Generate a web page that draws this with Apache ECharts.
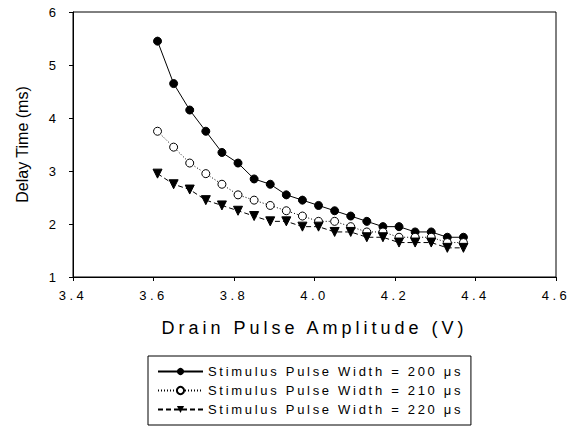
<!DOCTYPE html>
<html><head><meta charset="utf-8">
<script src="https://cdn.jsdelivr.net/npm/echarts@6/dist/echarts.min.js"></script>
<style>html,body{margin:0;padding:0;background:#fff}#c{width:569px;height:428px}</style>
</head><body><div id="c"></div>
<script>
var xValues = [3.61,3.65,3.69,3.73,3.77,3.81,3.85,3.89,3.93,3.97,4.01,4.05,4.09,4.13,4.17,4.21,4.25,4.29,4.33,4.37];
var delay200 = [5.45,4.65,4.15,3.75,3.35,3.15,2.85,2.75,2.55,2.45,2.35,2.25,2.15,2.05,1.95,1.95,1.85,1.85,1.75,1.75];
var delay210 = [3.75,3.45,3.15,2.95,2.75,2.55,2.45,2.35,2.25,2.15,2.05,2.05,1.95,1.85,1.85,1.75,1.75,1.75,1.65,1.65];
var delay220 = [2.95,2.75,2.65,2.45,2.35,2.25,2.15,2.05,2.05,1.95,1.95,1.85,1.85,1.75,1.75,1.65,1.65,1.65,1.55,1.55];
var seriesNames = ['Stimulus Pulse Width = 200 \u03bcs','Stimulus Pulse Width = 210 \u03bcs','Stimulus Pulse Width = 220 \u03bcs'];
var xTitle = 'Drain Pulse Amplitude (V)';
var yTitle = 'Delay Time (ms)';

function pairs(ys){ return xValues.map(function(x,i){ return [x, ys[i]]; }); }
var font = 'Arial, "Liberation Sans", sans-serif';
var chart = echarts.init(document.getElementById('c'), null, {renderer:'svg'});
chart.setOption({
  animation:false,
  backgroundColor:'#fff',
  grid:{left:73, right:13, top:12, bottom:151, show:true, borderColor:'#000', borderWidth:1, backgroundColor:'transparent'},
  xAxis:{type:'value', min:3.4, max:4.6, interval:0.2,
    name:xTitle, nameLocation:'middle', nameGap:42,
    nameTextStyle:{fontFamily:font, fontSize:18, color:'#000'},
    axisLine:{lineStyle:{color:'#000', width:1}},
    axisTick:{length:4, lineStyle:{color:'#000'}},
    axisLabel:{fontFamily:font, fontSize:13, color:'#000', margin:12, formatter:function(v){return v.toFixed(1);}},
    splitLine:{show:false}},
  yAxis:{type:'value', min:1, max:6, interval:1,
    name:yTitle, nameLocation:'middle', nameGap:43,
    nameTextStyle:{fontFamily:font, fontSize:16, color:'#000'},
    axisLine:{lineStyle:{color:'#000', width:1}},
    axisTick:{length:4, lineStyle:{color:'#000'}},
    axisLabel:{fontFamily:font, fontSize:13, color:'#000', margin:17},
    splitLine:{show:false}},
  legend:{orient:'vertical', left:148, top:356,
    borderColor:'#000', borderWidth:1, padding:[9,86,9,9], itemGap:6,
    itemWidth:45, itemHeight:9,
    textStyle:{fontFamily:font, fontSize:13, color:'#000'},
    data:seriesNames},
  series:[
    {name:seriesNames[0], type:'line', data:pairs(delay200), symbol:'circle', symbolSize:8,
     itemStyle:{color:'#000', borderColor:'#000'}, lineStyle:{color:'#000', width:1, type:'solid'}},
    {name:seriesNames[1], type:'line', data:pairs(delay210), symbol:'circle', symbolSize:8,
     itemStyle:{color:'#fff', borderColor:'#000', borderWidth:1}, lineStyle:{color:'#000', width:1, type:[1,2]}},
    {name:seriesNames[2], type:'line', data:pairs(delay220), symbol:'triangle', symbolRotate:180, symbolSize:9,
     itemStyle:{color:'#000', borderColor:'#000'}, lineStyle:{color:'#000', width:1, type:[5,3]}}
  ]
});
function applySpacing(){
  var texts = document.querySelectorAll('#c svg text');
  for (var i=0;i<texts.length;i++){
    var t = texts[i], s = t.textContent;
    if (s === xTitle) t.style.letterSpacing = '4px';
    else if (/^\d\.\d$/.test(s)) t.style.letterSpacing = '3.5px';
    else if (s.indexOf('Stimulus') === 0) t.style.letterSpacing = '2.7px';
  }
}
try { chart.getZr().refreshImmediately(); } catch(e) {}
applySpacing();
chart.on('finished', applySpacing);
setTimeout(applySpacing, 30);
</script></body></html>
